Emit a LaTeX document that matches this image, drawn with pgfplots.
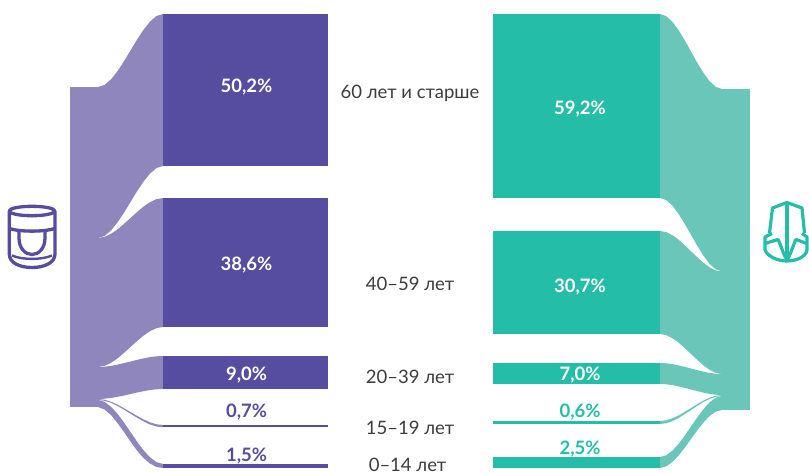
\documentclass[border=0pt]{standalone}
\usepackage{fontspec}
\setmainfont{Lato}
\usepackage{pgfplots}
\pgfplotsset{compat=1.18}
\definecolor{pd}{HTML}{564CA0}
\definecolor{pl}{HTML}{8F86BD}
\definecolor{td}{HTML}{24BDA7}
\definecolor{tl}{HTML}{69C6B8}
\definecolor{lab}{HTML}{3C3C3C}
\newcommand{\pct}[1]{\fontsize{18.5}{20}\selectfont\bfseries #1}
\newcommand{\age}[1]{\fontsize{18.5}{20}\selectfont #1}
\begin{document}
\begin{tikzpicture}
\path[use as bounding box] (0,0) rectangle (809pt,472pt);
\begin{axis}[at={(0,0)},anchor=south west,hide axis,scale only axis,width=809pt,height=472pt,
 xmin=0,xmax=809,ymin=0,ymax=472,y dir=reverse,clip=true,
 flow/.style={fill=#1,draw=none,forget plot},
 every node/.append style={inner sep=0pt}]
% blocks
\addplot[flow=pl] coordinates {(70,87)(99,87)(99,407)(70,407)} --cycle;
\addplot[flow=tl] coordinates {(721,89)(750,89)(750,410)(721,410)} --cycle;
% left flows
\addplot[flow=pl] coordinates {(163,14)(156.5,16.0)(150,21.6)(143.5,29.8)(137,39.7)(130.5,50.5)(124,61.3)(117.5,71.2)(111,79.4)(104.5,85.0)(98,87)
 (98,238)(104.5,236.0)(111,230.5)(117.5,222.4)(124,212.7)(130.5,202)(137,191.3)(143.5,181.6)(150,173.5)(156.5,168.0)(163,166)} --cycle;
\addplot[flow=pl] coordinates {(163,198)(156.5,199.1)(150,202.2)(143.5,206.6)(137,212.1)(130.5,218)(124,223.9)(117.5,229.4)(111,233.8)(104.5,236.9)(98,238)
 (98,367)(104.5,365.9)(111,362.8)(117.5,358.4)(124,352.9)(130.5,347)(137,341.1)(143.5,335.6)(150,331.2)(156.5,328.1)(163,327)} --cycle;
\addplot[flow=pl] coordinates {(163,356)(156.5,356.3)(150,357.1)(143.5,358.4)(137,359.9)(130.5,361.5)(124,363.1)(117.5,364.6)(111,365.9)(104.5,366.7)(98,367)
 (98,399)(104.5,398.7)(111,398)(117.5,396.8)(124,395.5)(130.5,394)(137,392.5)(143.5,391.2)(150,390)(156.5,389.3)(163,389)} --cycle;
\addplot[flow=pl] coordinates {(163,425)(156.5,424.3)(150,422.3)(143.5,419.4)(137,415.8)(130.5,412)(124,408.2)(117.5,404.6)(111,401.7)(104.5,399.7)(98,399)
 (98,400)(104.5,400.8)(111,402.8)(117.5,405.9)(124,409.6)(130.5,413.7)(137,417.7)(143.5,421.4)(150,424.5)(156.5,426.5)(163,427.3)} --cycle;
\addplot[flow=pl] coordinates {(163,464)(156.5,462.2)(150,457.3)(143.5,450.2)(137,441.5)(130.5,432)(124,422.5)(117.5,413.8)(111,406.7)(104.5,401.8)(98,400)
 (98,407)(104.5,409.5)(111,415)(117.5,423)(124,432)(130.5,441.5)(137,450.5)(143.5,458)(150,463.5)(156.5,467)(163,468)} --cycle;
% right flows
\addplot[flow=tl] coordinates {(660,14)(666.2,16.1)(672.4,21.8)(678.6,30.2)(684.8,40.4)(691,51.5)(697.2,62.6)(703.4,72.8)(709.6,81.2)(715.8,86.9)(722,89)
 (722,271.5)(715.8,269.4)(709.6,263.9)(703.4,255.6)(697.2,245.6)(691,234.8)(684.8,223.9)(678.6,213.9)(672.4,205.6)(666.2,200.1)(660,198)} --cycle;
\addplot[flow=tl] coordinates {(660,231)(666.2,232.1)(672.4,235.2)(678.6,239.7)(684.8,245.3)(691,251.3)(697.2,257.2)(703.4,262.8)(709.6,267.3)(715.8,270.4)(722,271.5)
 (722,374)(715.8,372.9)(709.6,369.8)(703.4,365.4)(697.2,359.9)(691,354)(684.8,348.1)(678.6,342.6)(672.4,338.2)(666.2,335.1)(660,334)} --cycle;
\addplot[flow=tl] coordinates {(660,363)(666.2,363.3)(672.4,364.1)(678.6,365.4)(684.8,366.9)(691,368.5)(697.2,370.1)(703.4,371.6)(709.6,372.9)(715.8,373.7)(722,374)
 (722,395)(715.8,394.7)(709.6,393.9)(703.4,392.6)(697.2,391.1)(691,389.5)(684.8,387.9)(678.6,386.4)(672.4,385.1)(666.2,384.3)(660,384)} --cycle;
\addplot[flow=tl] coordinates {(660,421)(666.2,420.3)(672.4,418.3)(678.6,415.4)(684.8,411.8)(691,408)(697.2,404.2)(703.4,400.6)(709.6,397.7)(715.8,395.7)(722,395)
 (722,396)(715.8,396.8)(709.6,398.9)(703.4,402)(697.2,405.9)(691,410)(684.8,414.1)(678.6,418)(672.4,421.1)(666.2,423.2)(660,424)} --cycle;
\addplot[flow=tl] coordinates {(660,457)(666.2,455.3)(672.4,450.7)(678.6,443.8)(684.8,435.5)(691,426.5)(697.2,417.5)(703.4,409.2)(709.6,402.3)(715.8,397.7)(722,396)
 (722,410)(715.8,411.6)(709.6,416)(703.4,422.5)(697.2,430.4)(691,439)(684.8,447.6)(678.6,455.5)(672.4,462)(666.2,466.4)(660,468)} --cycle;
% bars
\addplot[flow=pd] coordinates {(163,14)(328,14)(328,166)(163,166)} --cycle;
\addplot[flow=pd] coordinates {(163,198)(328,198)(328,327)(163,327)} --cycle;
\addplot[flow=pd] coordinates {(163,356)(328,356)(328,389)(163,389)} --cycle;
\addplot[flow=pd] coordinates {(163,425)(328,425)(328,427.3)(163,427.3)} --cycle;
\addplot[flow=pd] coordinates {(163,464)(328,464)(328,468)(163,468)} --cycle;
\addplot[flow=td] coordinates {(493,14)(660,14)(660,198)(493,198)} --cycle;
\addplot[flow=td] coordinates {(493,231)(660,231)(660,334)(493,334)} --cycle;
\addplot[flow=td] coordinates {(493,363)(660,363)(660,384)(493,384)} --cycle;
\addplot[flow=td] coordinates {(493,421)(660,421)(660,424)(493,424)} --cycle;
\addplot[flow=td] coordinates {(493,457)(660,457)(660,468)(493,468)} --cycle;
% labels
\node[white] at (axis cs:246.5,87) {\pct{50,2\%}};
\node[white] at (axis cs:246.5,265) {\pct{38,6\%}};
\node[white] at (axis cs:246.5,375) {\pct{9,0\%}};
\node[pd] at (axis cs:246.5,412) {\pct{0,7\%}};
\node[pd] at (axis cs:246.5,456) {\pct{1,5\%}};
\node[white] at (axis cs:580,109) {\pct{59,2\%}};
\node[white] at (axis cs:580,287) {\pct{30,7\%}};
\node[white] at (axis cs:580,375) {\pct{7,0\%}};
\node[td] at (axis cs:580,412) {\pct{0,6\%}};
\node[td] at (axis cs:580,449) {\pct{2,5\%}};
\node[lab] at (axis cs:410,93.5) {\age{60 лет и старше}};
\node[lab] at (axis cs:410,283.5) {\age{40–59 лет}};
\node[lab] at (axis cs:410,376.5) {\age{20–39 лет}};
\node[lab] at (axis cs:410,427.5) {\age{15–19 лет}};
\node[lab] at (axis cs:407.5,464.5) {\age{0–14 лет}};
% left icon
\draw[pd,line width=3.3pt,line join=round] (axis cs:32,211) ellipse [x radius=22.8pt,y radius=4.7pt];
\draw[pd,line width=3.3pt,line cap=round] (axis cs:9.3,211) -- (axis cs:9.3,254) .. controls (axis cs:9.3,263) and (axis cs:20,267.5) .. (axis cs:32,267.5) .. controls (axis cs:44,267.5) and (axis cs:55,263) .. (axis cs:55,254) -- (axis cs:55,211);
\draw[pd,line width=3.3pt] (axis cs:9.3,228.5) .. controls (axis cs:20,232) and (axis cs:44,232) .. (axis cs:55,228.5);
\draw[pd,line width=3.3pt] (axis cs:19,231) -- (axis cs:19,238) .. controls (axis cs:19,248) and (axis cs:25,254.5) .. (axis cs:32,254.5) .. controls (axis cs:39,254.5) and (axis cs:45,248) .. (axis cs:45,238) -- (axis cs:45,231);
\draw[pd,line width=2.4pt] (axis cs:12,255.5) .. controls (axis cs:22,260) and (axis cs:42,260) .. (axis cs:52,255.5);
% right icon
\draw[td,line width=3.2pt,line join=round] (axis cs:769.5,233) -- (axis cs:772.5,208) -- (axis cs:787,202.5) -- (axis cs:802,208) -- (axis cs:804.5,233);
\draw[td,line width=3.2pt] (axis cs:787,202) -- (axis cs:787,260);
\draw[td,line width=3.2pt,line join=round] (axis cs:772,233.5) -- (axis cs:765,237) -- (axis cs:765,250) .. controls (axis cs:768,257) and (axis cs:778,261) .. (axis cs:787,261) .. controls (axis cs:796,261) and (axis cs:806,257) .. (axis cs:807,250) -- (axis cs:807,237) -- (axis cs:802,233.5);
\draw[td,line width=3.2pt,line join=round] (axis cs:765,243.5) -- (axis cs:778,239.5) .. controls (axis cs:781,245) and (axis cs:783,254) .. (axis cs:787,260) .. controls (axis cs:791,254) and (axis cs:793,245) .. (axis cs:796,239.5) -- (axis cs:807,243.5);
\end{axis}
\end{tikzpicture}
\end{document}
